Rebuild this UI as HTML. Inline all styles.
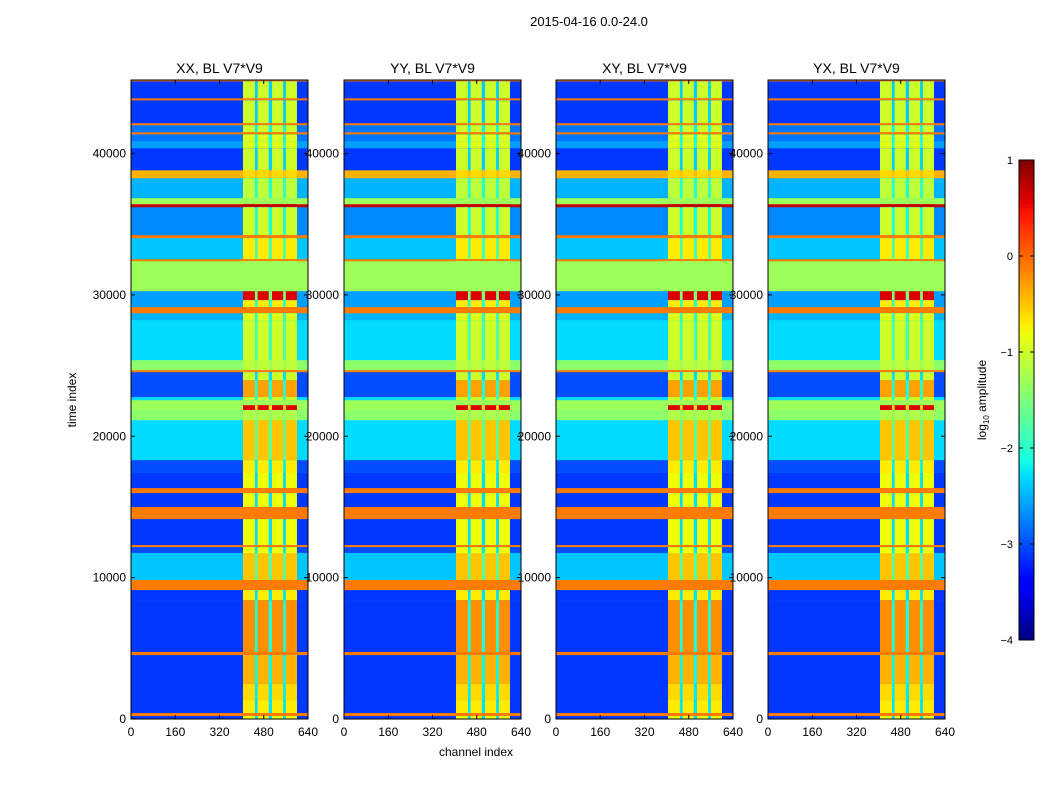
<!DOCTYPE html>
<html><head><meta charset="utf-8"><style>
body{margin:0;background:#fff;}
svg text{font-family:"Liberation Sans",sans-serif;}
</style></head><body>
<svg id="fig" width="1050" height="800" xmlns="http://www.w3.org/2000/svg">
<text x="589" y="26" font-size="13" text-anchor="middle">2015-04-16 0.0-24.0</text>
<text x="476" y="756" font-size="12" text-anchor="middle">channel index</text>
<text transform="translate(76,400) rotate(-90)" font-size="12" text-anchor="middle">time index</text>
<text transform="translate(986,400) rotate(-90)" font-size="12" text-anchor="middle">log<tspan font-size="8" dy="3">10</tspan><tspan dy="-3"> amplitude</tspan></text>
</svg>
<script>
const panelTitles=["XX, BL V7*V9","YY, BL V7*V9","XY, BL V7*V9","YX, BL V7*V9"];
const xTicks=[0,160,320,480,640];
const yTicks=[0,10000,20000,30000,40000];
const cbTicks=[1,0,-1,-2,-3,-4];
const bandCols=[[405,448],[458,498],[510,550],[560,600]];
// rows: [tStart, tEnd, background log amp, band log amp]
const rows=[
[45100,45200,-0.1,-0.1],[43900,45100,-3.1,-1.0],[43760,43900,-0.1,-0.1],[42140,43760,-3.1,-1.0],
[42000,42140,-0.1,-0.1],[41500,42000,-2.8,-1.0],[41350,41500,-0.1,-0.1],[40870,41350,-2.8,-0.9],
[40370,40870,-2.6,-0.9],[38810,40370,-3.1,-1.0],[38250,38810,-0.4,-0.6],[36840,38250,-2.5,-1.1],
[36410,36840,-1.3,-1.3],[36200,36410,0.7,0.7],[34220,36200,-2.7,-1.0],[34010,34220,-0.1,-0.1],
[32520,34010,-2.4,-0.7],[32380,32520,-0.1,-0.1],[30260,32380,-1.3,-1.3],[29620,30260,-2.6,0.6],
[29130,29620,-2.6,-0.7],[28700,29130,-0.1,-0.1],[28210,28700,-2.5,-0.9],[25380,28210,-2.3,-1.0],
[24670,25380,-1.4,-1.1],[24530,24670,-0.1,-0.1],[23970,24530,-3.0,-1.0],[22770,23970,-3.0,-0.3],
[22550,22770,-2.3,-1.0],[22200,22550,-1.3,-1.3],[21850,22200,-1.3,0.6],[21140,21850,-1.4,-1.2],
[18310,21140,-2.3,-0.5],[17400,18310,-3.0,-0.7],[16330,17400,-3.1,-0.8],[15980,16330,-0.1,-0.1],
[14990,15980,-3.1,-0.8],[14140,14990,-0.1,-0.1],[12300,14140,-3.1,-0.8],[12160,12300,-0.1,-0.1],
[11740,12160,-3.0,-0.8],[9830,11740,-2.4,-0.5],[9120,9830,-0.1,-0.1],[8410,9120,-3.1,-0.7],
[4740,8410,-3.1,-0.2],[4520,4740,-0.1,-0.1],[2480,4520,-3.1,-0.4],[1340,2480,-3.1,-0.6],
[420,1340,-3.1,-0.7],[210,420,-0.1,-0.1],[0,210,-3.1,-0.8]
];
const panelX=[131,344,556,768];
const PW=177, PT=80, PB=719, TMAX=45200, CMAX=640, VMIN=-4, VMAX=1;
const NS="http://www.w3.org/2000/svg";
const svg=document.getElementById('fig');
function mk(t,a,p){const e=document.createElementNS(NS,t);for(const k in a)e.setAttribute(k,a[k]);(p||svg).appendChild(e);return e;}
function interp(pts,x){for(let i=1;i<pts.length;i++){if(x<=pts[i][0]){const a=pts[i-1],b=pts[i];return a[1]+(b[1]-a[1])*(x-a[0])/(b[0]-a[0]);}}return pts[pts.length-1][1];}
const JR=[[0,0],[0.35,0],[0.66,1],[0.89,1],[1,0.5]];
const JG=[[0,0],[0.125,0],[0.375,1],[0.64,1],[0.91,0],[1,0]];
const JB=[[0,0.5],[0.11,1],[0.34,1],[0.65,0],[1,0]];
function jet(v){const x=Math.max(0,Math.min(1,(v-VMIN)/(VMAX-VMIN)));
 return `rgb(${Math.round(interp(JR,x)*255)},${Math.round(interp(JG,x)*255)},${Math.round(interp(JB,x)*255)})`;}
const yS=t=>PB-(t/TMAX)*(PB-PT);
panelX.forEach((px,pi)=>{
 const xS=c=>px+c/CMAX*PW;
 const g=mk('g',{});
 
 
 rows.forEach(r=>{
  const y0=yS(r[1]),h=yS(r[0])-y0;
  const bg=mk('rect',{x:px,y:y0,width:PW,height:h+0.3,fill:jet(r[2])},g);
  
  
  const gapV=r[2]+(r[3]-r[2])*0.35;
  const gp=mk('rect',{x:xS(bandCols[0][0]),y:y0,width:xS(bandCols[bandCols.length-1][1])-xS(bandCols[0][0]),height:h+0.3,fill:jet(gapV)},g);
  
  
  bandCols.forEach(c=>{
   const b=mk('rect',{x:xS(c[0]),y:y0,width:xS(c[1])-xS(c[0]),height:h+0.3,fill:jet(r[3])},g);
   
   
  });
 });
 const fr=mk('rect',{x:px,y:PT,width:PW,height:PB-PT,fill:'none',stroke:'#000','stroke-width':1});
 
 
 const tt=mk('text',{x:px+PW/2,y:PT-7,'font-size':14,'text-anchor':'middle'});
 tt.textContent=panelTitles[pi];
 
 
 xTicks.forEach(v=>{const x=xS(v);
  mk('line',{x1:x,x2:x,y1:PB,y2:PB-4,stroke:'#000'});
  mk('line',{x1:x,x2:x,y1:PT,y2:PT+4,stroke:'#000'});
  const t=mk('text',{x:x,y:PB+17,'font-size':12,'text-anchor':'middle'});t.textContent=v;
  
  });
 yTicks.forEach(v=>{const y=yS(v);
  mk('line',{x1:px,x2:px+4,y1:y,y2:y,stroke:'#000'});
  mk('line',{x1:px+PW,x2:px+PW-4,y1:y,y2:y,stroke:'#000'});
  const t=mk('text',{x:px-5,y:y+4,'font-size':12,'text-anchor':'end'});t.textContent=v;
  
  });
});
const CBX=1019,CBW=15,CBT=160,CBB=640;
const cg=mk('g',{});


const N=120;
for(let i=0;i<N;i++){const v=VMIN+(VMAX-VMIN)*(i+0.5)/N;const y=CBB-(i+1)*(CBB-CBT)/N;
 mk('rect',{x:CBX,y:y,width:CBW,height:(CBB-CBT)/N+0.5,fill:jet(v)},cg);}
mk('rect',{x:CBX,y:CBT,width:CBW,height:CBB-CBT,fill:'none',stroke:'#000'},cg);
cbTicks.forEach(v=>{const y=CBB-(v-VMIN)/(VMAX-VMIN)*(CBB-CBT);
 mk('line',{x1:CBX,x2:CBX+4,y1:y,y2:y,stroke:'#000'},cg);
 mk('line',{x1:CBX+CBW,x2:CBX+CBW-4,y1:y,y2:y,stroke:'#000'},cg);
 const t=mk('text',{x:CBX-6,y:y+4,'font-size':11,'text-anchor':'end'},cg);
 t.textContent=v<0?'\u2212'+(-v):String(v);
 
 });
</script>
</body></html>
